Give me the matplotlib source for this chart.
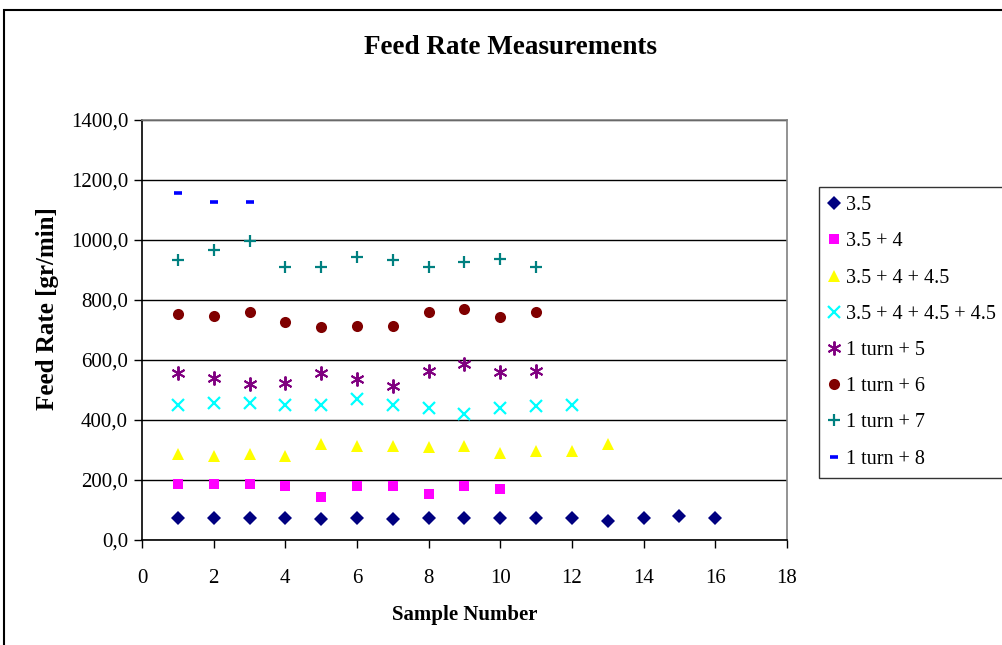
import matplotlib.pyplot as plt
from matplotlib.patches import Rectangle

plt.rcParams["font.family"] = ["Liberation Serif", "DejaVu Serif"]

# sample numbers and feed rate readings [gr/min] per nozzle setup
labels = ["3.5", "3.5 + 4", "3.5 + 4 + 4.5", "3.5 + 4 + 4.5 + 4.5",
          "1 turn + 5", "1 turn + 6", "1 turn + 7", "1 turn + 8"]

rate_35 = [75, 75, 75, 75, 70, 75, 70, 75, 75, 75, 75, 75, 64, 75, 81, 75]
rate_35_4 = [187, 187, 187, 181, 142, 181, 181, 153, 181, 170]
rate_35_4_45 = [286, 280, 286, 280, 320, 313, 313, 309, 313, 291, 297, 297, 320]
rate_35_4_45_45 = [450, 456, 456, 450, 450, 469, 450, 441, 419, 441, 447, 450]
rate_t5 = [558, 541, 519, 524, 558, 536, 513, 564, 587, 559, 564]
rate_t6 = [753, 748, 759, 726, 709, 714, 714, 759, 770, 742, 759]
rate_t7 = [933, 967, 997, 909, 909, 944, 933, 909, 926, 937, 909]
rate_t8 = [1156, 1128, 1128]

series = [rate_35, rate_35_4, rate_35_4_45, rate_35_4_45_45,
          rate_t5, rate_t6, rate_t7, rate_t8]

styles = [
    dict(marker="D", color="#000080", ms=7.5, mew=0),
    dict(marker="s", color="#FF00FF", ms=7, mew=0),
    dict(marker="^", color="#FFFF00", ms=9, mew=0),
    dict(marker="x", color="#00FFFF", ms=8, mew=1.6),
    dict(marker=(6, 2, 0), color="#800080", ms=10, mew=1.4),
    dict(marker="o", color="#800000", ms=8, mew=0),
    dict(marker="+", color="#008080", ms=9, mew=1.6),
    dict(marker="_", color="#0000FF", ms=6, mew=2.6),
]

fig = plt.figure(figsize=(10.02, 6.45), dpi=100)
ax = fig.add_axes([142 / 1002, 105 / 645, 645 / 1002, 420 / 645])

for vals, lab, st in zip(series, labels, styles):
    xs = list(range(1, len(vals) + 1))
    ax.plot(xs, vals, linestyle="none", label=lab, **st)

ax.set_xlim(0, 18)
ax.set_ylim(0, 1400)
ax.set_xticks(range(0, 19, 2))
ax.set_yticks(range(0, 1401, 200))
ax.set_yticklabels([f"{v},0" for v in range(0, 1401, 200)])
ax.tick_params(labelsize=15, length=6, width=1, direction="out", colors="black")
ax.tick_params(axis="x", pad=15)
ax.tick_params(axis="y", pad=4)

ax.yaxis.grid(True, color="black", linewidth=1)
ax.set_axisbelow(True)
for side in ["left", "bottom"]:
    ax.spines[side].set_color("black")
    ax.spines[side].set_linewidth(1.2)
for side in ["top", "right"]:
    ax.spines[side].set_color("#808080")
    ax.spines[side].set_linewidth(1.2)

ax.set_xlabel("Sample Number", fontsize=15, fontweight="bold", labelpad=12)
ax.set_ylabel("Feed Rate [gr/min]", fontsize=18, fontweight="bold")
ax.yaxis.set_label_coords(-0.129, 0.55)
fig.text(510 / 1002, 1 - 48 / 645, "Feed Rate Measurements", fontsize=19.5,
         fontweight="bold", ha="center", va="center")

leg = ax.legend(loc="upper left", bbox_to_anchor=(819 / 1002, 1 - 187 / 645),
                bbox_transform=fig.transFigure, fontsize=14.5, frameon=True,
                fancybox=False, edgecolor="black", handlelength=0.6,
                handletextpad=0.3, labelspacing=0.85, borderpad=0.45,
                borderaxespad=0)
leg.get_frame().set_linewidth(1.0)

# outer chart border
fig.patches.append(Rectangle((4 / 1002, -0.1), 1.2, 1 - 10 / 645 + 0.1,
                             transform=fig.transFigure, fill=False,
                             edgecolor="black", linewidth=1.5))

fig.savefig("out.png", dpi=100)
